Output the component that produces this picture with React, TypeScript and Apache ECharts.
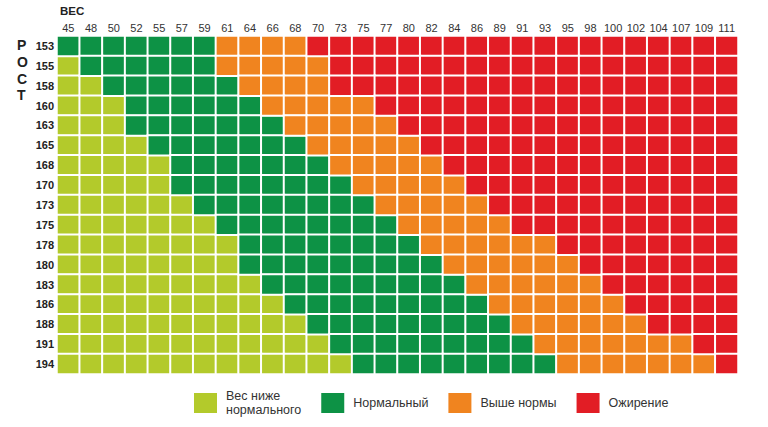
import React, { useEffect, useRef } from "react";
import * as echarts from "echarts";

const weights = [45, 48, 50, 52, 55, 57, 59, 61, 64, 66, 68, 70, 73, 75, 77, 80, 82, 84, 86, 89, 91, 93, 95, 98, 100, 102, 104, 107, 109, 111];
const heights = [153, 155, 158, 160, 163, 165, 168, 170, 173, 175, 178, 180, 183, 186, 188, 191, 194];

// index of the first weight column in each height row that belongs to a category
const normalFrom = [0, 1, 2, 3, 3, 4, 5, 5, 6, 7, 8, 8, 9, 10, 11, 12, 13];
const overFrom = [7, 7, 8, 9, 10, 11, 12, 13, 14, 15, 16, 17, 18, 19, 20, 21, 22];
const obeseFrom = [11, 12, 12, 14, 15, 16, 17, 18, 19, 20, 22, 23, 24, 25, 26, 28, 29];

const categoryNames = ["Вес ниже\nнормального", "Нормальный", "Выше нормы", "Ожирение"];
const categoryColors = ["#b3ca2b", "#0d9245", "#f0841f", "#e21d25"];

function classify(row: number, col: number): number {
  if (col >= obeseFrom[row]) return 3;
  if (col >= overFrom[row]) return 2;
  if (col >= normalFrom[row]) return 1;
  return 0;
}

export default function App() {
  const ref = useRef<HTMLDivElement>(null);
  useEffect(() => {
    if (!ref.current) return;
    const chart = echarts.init(ref.current, undefined, { renderer: "svg" });
    const seriesData: number[][][] = [[], [], [], []];
    heights.forEach((_, r) => {
      weights.forEach((_, c) => {
        const k = classify(r, c);
        seriesData[k].push([c, r, k]);
      });
    });
    const font = "'Liberation Sans', Arial, sans-serif";
    chart.setOption({
      animation: false,
      backgroundColor: "#ffffff",
      color: categoryColors,
      grid: { left: 57, right: 30, top: 36, bottom: 53 },
      xAxis: {
        type: "category",
        position: "top",
        data: weights.map(String),
        axisLine: { show: false },
        axisTick: { show: false },
        splitLine: { show: false },
        axisLabel: { fontSize: 11, color: "#333", margin: 3, fontFamily: font, interval: 0 },
      },
      yAxis: {
        type: "category",
        inverse: true,
        data: heights.map(String),
        axisLine: { show: false },
        axisTick: { show: false },
        splitLine: { show: false },
        axisLabel: { fontSize: 11, color: "#222", fontWeight: "bold", margin: 3, fontFamily: font, interval: 0 },
      },
      visualMap: {
        type: "piecewise",
        show: false,
        dimension: 2,
        seriesIndex: [0, 1, 2, 3],
        pieces: categoryColors.map((color, i) => ({ value: i, color })),
      },
      legend: {
        left: 192,
        top: 389,
        padding: 0,
        itemWidth: 25,
        itemHeight: 22,
        itemGap: 18,
        icon: "rect",
        selectedMode: false,
        data: categoryNames,
        textStyle: { fontSize: 12.5, color: "#333", lineHeight: 14, fontFamily: font, padding: [0, 0, 0, 3] },
      },
      graphic: [
        {
          type: "text",
          left: 60,
          top: 5,
          style: { text: "ВЕС", font: `bold 11.5px ${font}`, fill: "#222" },
        },
        {
          type: "text",
          left: 17,
          top: 37,
          style: {
            text: "Р\nО\nС\nТ",
            font: `bold 14px ${font}`,
            fill: "#222",
            lineHeight: 16.7,
            align: "center",
          },
        },
      ],
      series: categoryNames.map((name, i) => ({
        name,
        type: "heatmap",
        data: seriesData[i],
        itemStyle: { color: categoryColors[i], borderColor: "#ffffff", borderWidth: 2 },
        emphasis: { disabled: true },
      })),
    });
    return () => chart.dispose();
  }, []);
  return <div ref={ref} style={{ position: "fixed", left: 0, top: 0, width: 768, height: 427 }} />;
}
